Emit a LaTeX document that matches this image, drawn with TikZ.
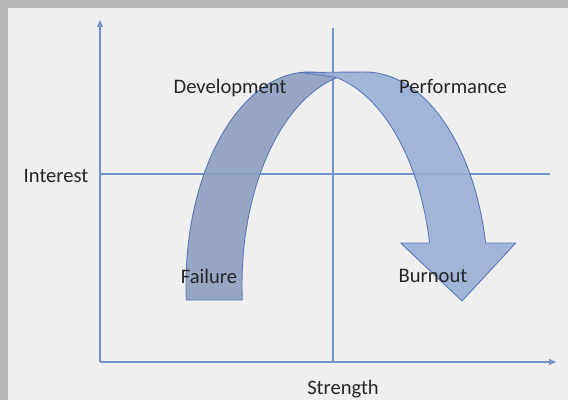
\documentclass[tikz,border=0pt]{standalone}
\usepackage{fontspec}
\setmainfont{Carlito}
\usetikzlibrary{arrows.meta}
\definecolor{bgout}{HTML}{B6B6B4}
\definecolor{bgin}{HTML}{EFEFEF}
\definecolor{axis}{HTML}{7393CF}
\definecolor{darkpart}{HTML}{8B9DBF}
\definecolor{lightpart}{HTML}{97ADD7}
\definecolor{edge}{HTML}{5A79B8}
\definecolor{txt}{HTML}{262626}
\begin{document}
\begin{tikzpicture}[x=1pt,y=1pt,
  axisline/.style={draw=axis,line width=1.1pt},
  axisarrow/.style={axisline,-{Triangle[length=7pt,width=6pt]}},
  lbl/.style={anchor=base,inner sep=0pt,text=txt,font=\fontsize{20.6}{24}\selectfont},
  ribbon/.style={draw=edge,line width=0.9pt,fill opacity=0.88,line join=round}]
\useasboundingbox (0,0) rectangle (568,400);
\fill[bgout] (0,0) rectangle (568,400);
\fill[bgin] (8,0) rectangle (568,392);
% axes and quadrant lines
\coordinate (O) at (100,38);
\coordinate (ytop) at (100,380);
\coordinate (xend) at (556,38);
\coordinate (vtop) at (333,372);
\coordinate (vbot) at (333,38);
\coordinate (hl) at (100,226);
\coordinate (hr) at (550,226);
\draw[axisarrow] (O) -- (ytop);
\draw[axisarrow] (O) -- (xend);
\draw[axisline] (vbot) -- (vtop);
\draw[axisline] (hl) -- (hr);
% curved arrow: back (dark) part
\path[ribbon,fill=darkpart] (186.3,100)
  arc[start angle=184.04,end angle=76.84,x radius=123,y radius=213]
  arc[start angle=103.16,end angle=184.04,x radius=123,y radius=213]
  -- cycle;
% curved arrow: front (light) part with head
\path[ribbon,fill=lightpart] (300.4,327.5) -- (365,328)
  arc[start angle=90,end angle=11.37,x radius=123,y radius=213]
  -- (515.7,157) -- (462,99) -- (400.7,157) -- (429.6,157)
  arc[start angle=11.37,end angle=76.84,x radius=123,y radius=213]
  -- cycle;
% labels
\node[lbl] (interest) at (56,218) {Interest};
\node[lbl] (strength) at (343,6) {Strength};
\node[lbl] (development) at (230,306) {Development};
\node[lbl] (performance) at (453,306) {Performance};
\node[lbl] (failure) at (209,117) {Failure};
\node[lbl] (burnout) at (433,118) {Burnout};
\end{tikzpicture}
\end{document}
